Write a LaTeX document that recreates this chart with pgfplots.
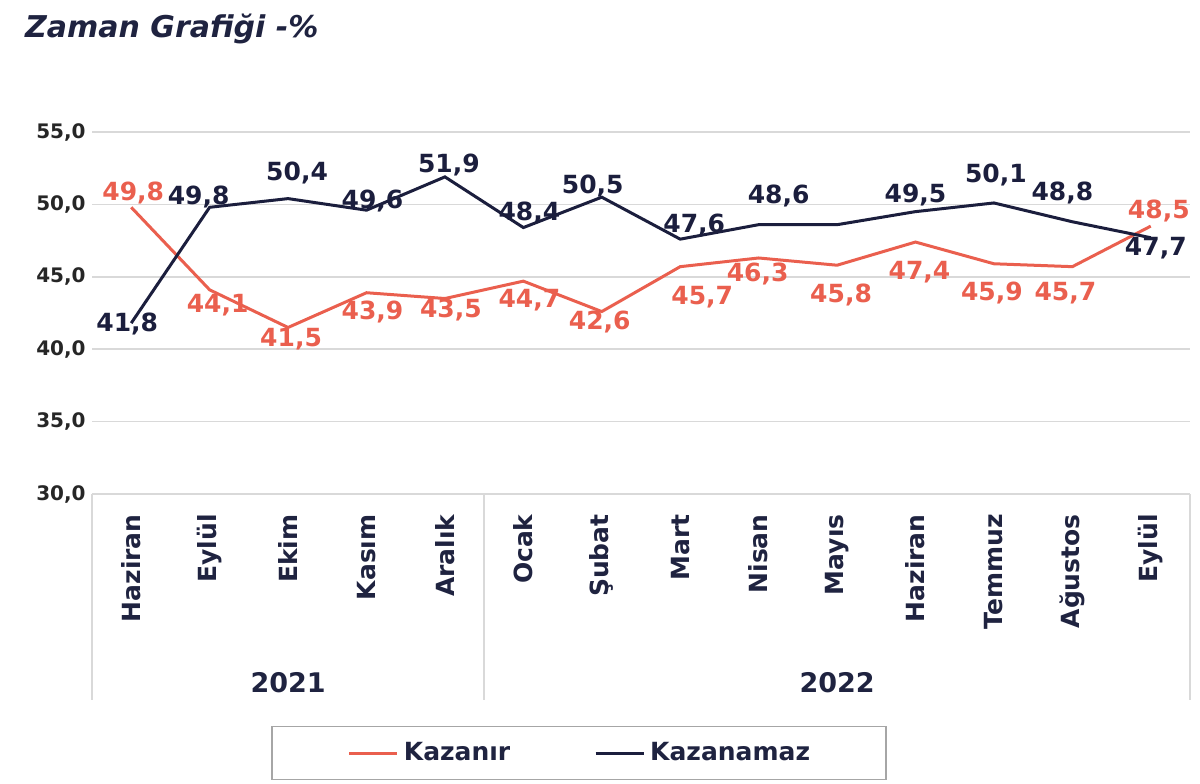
\documentclass[border=0pt]{standalone}
\usepackage{pgfplots}
\usepackage{pgfplotstable}
\pgfplotsset{compat=1.18}
\usepackage{fontspec}
\setmainfont{DejaVu Sans}
\definecolor{kred}{HTML}{EA5F4E}
\definecolor{knavy}{HTML}{1B1E3D}
\definecolor{gridc}{HTML}{D9D9D9}
\definecolor{txt}{HTML}{1F2340}
\definecolor{ticktxt}{HTML}{262626}

\pgfplotstableread{
x y dx dy lab
0 49.8 1 7 49,8
1 44.1 4 -7.5 44,1
2 41.5 1.5 -6 41,5
3 43.9 3 -9.5 43,9
4 43.5 3 -5.5 43,5
5 44.7 3 -9.5 44,7
6 42.6 -1 -5 42,6
7 45.7 11 -15 45,7
8 46.3 -0.5 -8 46,3
9 45.8 2 -15 45,8
10 47.4 2 -15 47,4
11 45.9 -1 -14.5 45,9
12 45.7 -3.5 -13 45,7
13 48.5 4 7.5 48,5
}\kazanir

\pgfplotstableread{
x y dx dy lab
0 41.8 -2 -0.5 41,8
1 49.8 -5.5 5 49,8
2 50.4 4.5 13 50,4
3 49.6 3 4.5 49,6
4 51.9 2 6 51,9
5 48.4 3 7.5 48,4
6 50.5 -4.5 5.5 50,5
7 47.6 7 7 47,6
8 48.6 10 14.5 48,6
9 48.6 0 0 {}
10 49.5 0 8.5 49,5
11 50.1 1 14 50,1
12 48.8 -5 14.5 48,8
13 47.7 2.5 -5 47,7
}\kazanamaz

\begin{document}
\begin{tikzpicture}
\useasboundingbox (0,0) rectangle (600pt,391.5pt);
\node[anchor=west, font=\bfseries\itshape\fontsize{15}{18}\selectfont, text=txt] at (9pt,377pt) {Zaman Grafiği -\%};
\begin{axis}[
  scale only axis, width=549pt, height=181pt,
  at={(46pt,325.5pt)}, anchor=north west,
  xmin=-0.5, xmax=13.5, ymin=30, ymax=55,
  ytick={30,35,40,45,50,55},
  xtick={0,...,13},
  xticklabels={Haziran,Eylül,Ekim,Kasım,Aralık,Ocak,Şubat,Mart,Nisan,Mayıs,Haziran,Temmuz,Ağustos,Eylül},
  axis line style={draw=none},
  major tick length=0pt,
  ymajorgrids, grid style={gridc, line width=0.75pt},
  clip=false,
  /pgf/number format/assume math mode=true,
  yticklabel style={/pgf/number format/.cd, fixed, fixed zerofill, precision=1, use comma, /tikz/.cd,
     font=\bfseries\fontsize{10}{12}\selectfont, text=ticktxt, anchor=east, inner sep=0pt, xshift=-3pt},
  xticklabel style={rotate=90, anchor=east, inner sep=0pt, font=\bfseries\fontsize{12.5}{14}\selectfont, text=txt},
  xticklabel shift=10pt,
  legend columns=2,
  legend style={at={(0.4435,-0.7155)}, anchor=center, draw=gray!70, line width=0.75pt,
     inner xsep=38pt, inner ysep=8pt, font=\bfseries\fontsize{12.5}{14}\selectfont, text=txt,
     /tikz/every odd column/.append style={column sep=2.5pt},
     /tikz/every even column/.append style={column sep=42pt},
     nodes={inner sep=0pt}},
  legend image code/.code={\draw[#1, line width=1.5pt] (0pt,0pt) -- (24pt,0pt);},
]
\addplot[kred, line width=1.5pt, mark=none,
  point meta=explicit symbolic, nodes near coords, nodes near coords align={center},
  visualization depends on={\thisrow{dx} \as \ldx},
  visualization depends on={\thisrow{dy} \as \ldy},
  every node near coord/.append style={anchor=center, xshift=\ldx pt, yshift=\ldy pt, inner sep=0pt,
     font=\bfseries\fontsize{12.5}{14}\selectfont, text=kred}]
  table[x=x, y=y, meta=lab] {\kazanir};
\addlegendentry{Kazanır}
\addplot[knavy, line width=1.5pt, mark=none,
  point meta=explicit symbolic, nodes near coords, nodes near coords align={center},
  visualization depends on={\thisrow{dx} \as \ldx},
  visualization depends on={\thisrow{dy} \as \ldy},
  every node near coord/.append style={anchor=center, xshift=\ldx pt, yshift=\ldy pt, inner sep=0pt,
     font=\bfseries\fontsize{12.5}{14}\selectfont, text=knavy}]
  table[x=x, y=y, meta=lab] {\kazanamaz};
\addlegendentry{Kazanamaz}
\draw[gridc, line width=0.75pt] (axis cs:-0.5,30) -- (axis cs:-0.5,15.8);
\draw[gridc, line width=0.75pt] (axis cs:4.5,30) -- (axis cs:4.5,15.8);
\draw[gridc, line width=0.75pt] (axis cs:13.5,30) -- (axis cs:13.5,15.8);
\node[font=\bfseries\fontsize{13.5}{16}\selectfont, text=txt] at (axis cs:2,16.95) {2021};
\node[font=\bfseries\fontsize{13.5}{16}\selectfont, text=txt] at (axis cs:9,16.95) {2022};
\end{axis}
\end{tikzpicture}
\end{document}
